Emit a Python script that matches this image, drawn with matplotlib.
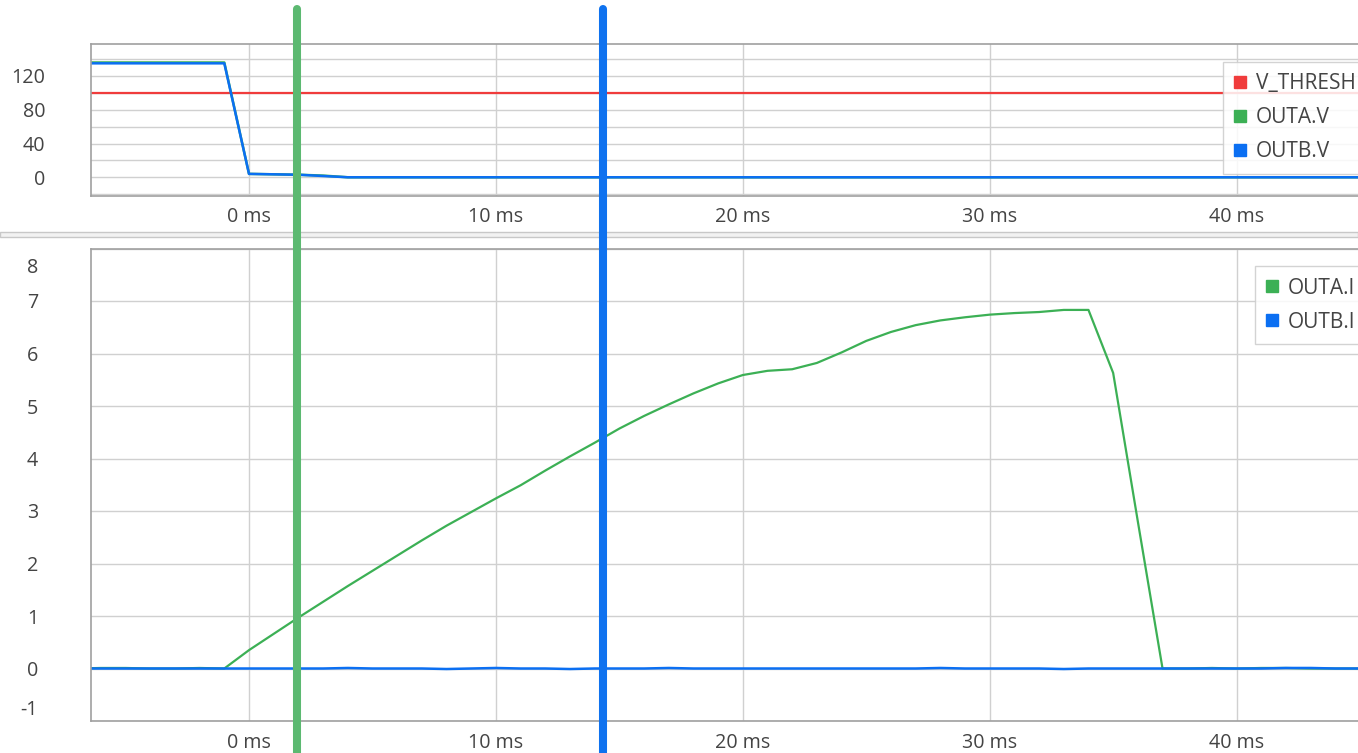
import matplotlib
matplotlib.use("Agg")
import matplotlib.pyplot as plt
from matplotlib.lines import Line2D
from matplotlib.patches import Rectangle
from matplotlib.transforms import ScaledTranslation, blended_transform_factory

# ---- data -------------------------------------------------------------
time_ms = [-7, -6, -5, -4, -3, -2, -1, 0, 1, 2, 3, 4, 5, 6, 7, 8, 9, 10, 11,
           12, 13, 14, 15, 16, 17, 18, 19, 20, 21, 22, 23, 24, 25, 26, 27,
           28, 29, 30, 31, 32, 33, 34, 35, 36, 37, 38, 39, 40, 41, 42, 43,
           44, 45]

v_thresh = [100] * len(time_ms)

outa_v = [136, 136, 136, 136, 136, 136, 136, 4, 3.5, 3, 2, 0, 0, 0, 0, 0,
          0, 0, 0, 0, 0, 0, 0, 0, 0, 0, 0, 0, 0, 0, 0, 0, 0, 0, 0, 0, 0, 0,
          0, 0, 0, 0, 0, 0, 0, 0, 0, 0, 0, 0, 0, 0, 0]
outb_v = [135, 135, 135, 135, 135, 135, 135, 4, 3.5, 3, 1.5, 0, 0, 0, 0, 0,
          0, 0, 0, 0, 0, 0, 0, 0, 0, 0, 0, 0, 0, 0, 0, 0, 0, 0, 0, 0, 0, 0,
          0, 0, 0, 0, 0, 0, 0, 0, 0, 0, 0, 0, 0, 0, 0]

outa_i = [0.0, 0.01, 0.01, 0.0, 0.0, 0.01, 0.0, 0.35, 0.66, 0.97, 1.27,
          1.57, 1.86, 2.15, 2.44, 2.72, 2.98, 3.24, 3.49, 3.77, 4.04, 4.30,
          4.57, 4.81, 5.03, 5.24, 5.43, 5.59, 5.67, 5.70, 5.82, 6.02, 6.24,
          6.41, 6.54, 6.63, 6.69, 6.74, 6.77, 6.79, 6.83, 6.83, 5.63, 2.80,
          0.0, 0.0, 0.01, 0.0, 0.01, 0.01, 0.0, 0.0, 0.0]
outb_i = [0.0, 0.0, 0.0, 0.0, 0.0, 0.0, 0.0, 0.0, 0.0, 0.0, 0.0, 0.01,
          0.0, 0.0, 0.0, -0.01, 0.0, 0.01, 0.0, 0.0, -0.01, 0.0, 0.0, 0.0,
          0.01, 0.0, 0.0, 0.0, 0.0, 0.0, 0.0, 0.0, 0.0, 0.0, 0.0, 0.01,
          0.0, 0.0, 0.0, 0.0, -0.01, 0.0, 0.0, 0.0, 0.0, 0.0, 0.0, 0.0,
          0.0, 0.01, 0.01, 0.0, 0.0]

x_ticks = [0, 10, 20, 30, 40]
v_ticks = [0, 40, 80, 120]
v_grid = [-20, 0, 20, 40, 60, 80, 100, 120, 140]
i_ticks = [-1, 0, 1, 2, 3, 4, 5, 6, 7, 8]

cursor_a_ms = 1.94
cursor_b_ms = 14.33

# ---- style ------------------------------------------------------------
RED = "#f03c3c"
GREEN = "#3cb055"
BLUE = "#0b6ff2"
CURSOR_GREEN = "#5cb971"
CURSOR_BLUE = "#0f72ef"
GRID = "#d0d0d0"
FRAME = "#a0a0a0"
TEXT = "#444444"

plt.rcParams["font.family"] = ["Open Sans", "DejaVu Sans"]

W, H = 1358, 753
fig = plt.figure(figsize=(W / 100, H / 100), dpi=100)


def px_axes(left, top, right, bottom):
    return fig.add_axes([left / W, 1 - bottom / H, (right - left) / W,
                         (bottom - top) / H])


ax_v = px_axes(91, 43.5, 1360, 196)
ax_i = px_axes(91, 248.5, 1360, 721)

px_per_ms = 24.69
x_lo = (91 - 249) / px_per_ms
x_hi = x_lo + (1360 - 91) / px_per_ms

for ax in (ax_v, ax_i):
    ax.set_xlim(x_lo, x_hi)
    ax.set_xticks(x_ticks)
    ax.set_xticklabels([f"{v} ms" for v in x_ticks])
    ax.tick_params(length=0, labelsize=14.2, colors=TEXT)
    ax.grid(True, color=GRID, linewidth=1.0)
    ax.set_axisbelow(True)
    for side in ("top", "bottom", "left", "right"):
        ax.spines[side].set_color(FRAME)
        ax.spines[side].set_linewidth(1.2)

# voltage panel
ax_v.set_ylim(-22.2, 158.5)
ax_v.set_yticks(v_grid)
ax_v.set_yticklabels([str(v) if v in v_ticks else "" for v in v_grid])
ax_v.tick_params(axis="y", pad=33)
ax_v.tick_params(axis="x", pad=8)
ax_v.plot(time_ms, v_thresh, color=RED, lw=1.6, label="V_THRESH")
ax_v.plot(time_ms, outa_v, color=GREEN, lw=1.8, label="OUTA.V")
ax_v.plot(time_ms, outb_v, color=BLUE, lw=1.8, label="OUTB.V")

# current panel
ax_i.set_ylim(-1, 8)
ax_i.set_yticks(i_ticks)
ax_i.set_yticklabels([str(v) for v in i_ticks])
ax_i.tick_params(axis="y", pad=38)
ax_i.tick_params(axis="x", pad=9)
ax_i.plot(time_ms, outa_i, color=GREEN, lw=1.6, label="OUTA.I")
ax_i.plot(time_ms, outb_i, color=BLUE, lw=1.8, label="OUTB.I")

# keep the end labels inside the plot frame
labels = ax_i.get_yticklabels()
labels[-1].set_transform(labels[-1].get_transform()
                         + ScaledTranslation(0, -0.17, fig.dpi_scale_trans))
labels[0].set_transform(labels[0].get_transform()
                        + ScaledTranslation(0, 0.135, fig.dpi_scale_trans))


def square_legend(ax, names, colors, left_px, top_px):
    handles = [Line2D([], [], linestyle="none", marker="s", markersize=8.4,
                      markerfacecolor=c, markeredgecolor=c) for c in colors]
    leg = ax.legend(handles, names, loc="upper left",
                    bbox_to_anchor=(left_px / W, 1 - top_px / H),
                    bbox_transform=fig.transFigure, borderaxespad=0,
                    fontsize=15, frameon=True, fancybox=False,
                    framealpha=0.85, edgecolor="#cccccc",
                    handlelength=0.5, handletextpad=0.52, borderpad=0.56,
                    labelspacing=0.62, labelcolor=TEXT)
    leg.get_frame().set_linewidth(1.0)
    return leg


square_legend(ax_v, ["V_THRESH", "OUTA.V", "OUTB.V"], [RED, GREEN, BLUE],
              1222.7, 61.7)
square_legend(ax_i, ["OUTA.I", "OUTB.I"], [GREEN, BLUE], 1255.3, 266)

# divider between the two panels
fig.add_artist(Rectangle((0, 1 - 237 / H), 1, 5.5 / H,
                         transform=fig.transFigure, facecolor="#f2f2f2",
                         edgecolor="#c8c8c8", linewidth=1.0))

# measurement cursors spanning both panels
cursor_tf = blended_transform_factory(ax_i.transData, fig.transFigure)
for xc, col in ((cursor_a_ms, CURSOR_GREEN), (cursor_b_ms, CURSOR_BLUE)):
    fig.add_artist(Line2D([xc, xc], [1 - 9 / H, -0.05], transform=cursor_tf,
                          color=col, linewidth=5.8, solid_capstyle="round",
                          zorder=10))

fig.savefig("out.png", dpi=100)
